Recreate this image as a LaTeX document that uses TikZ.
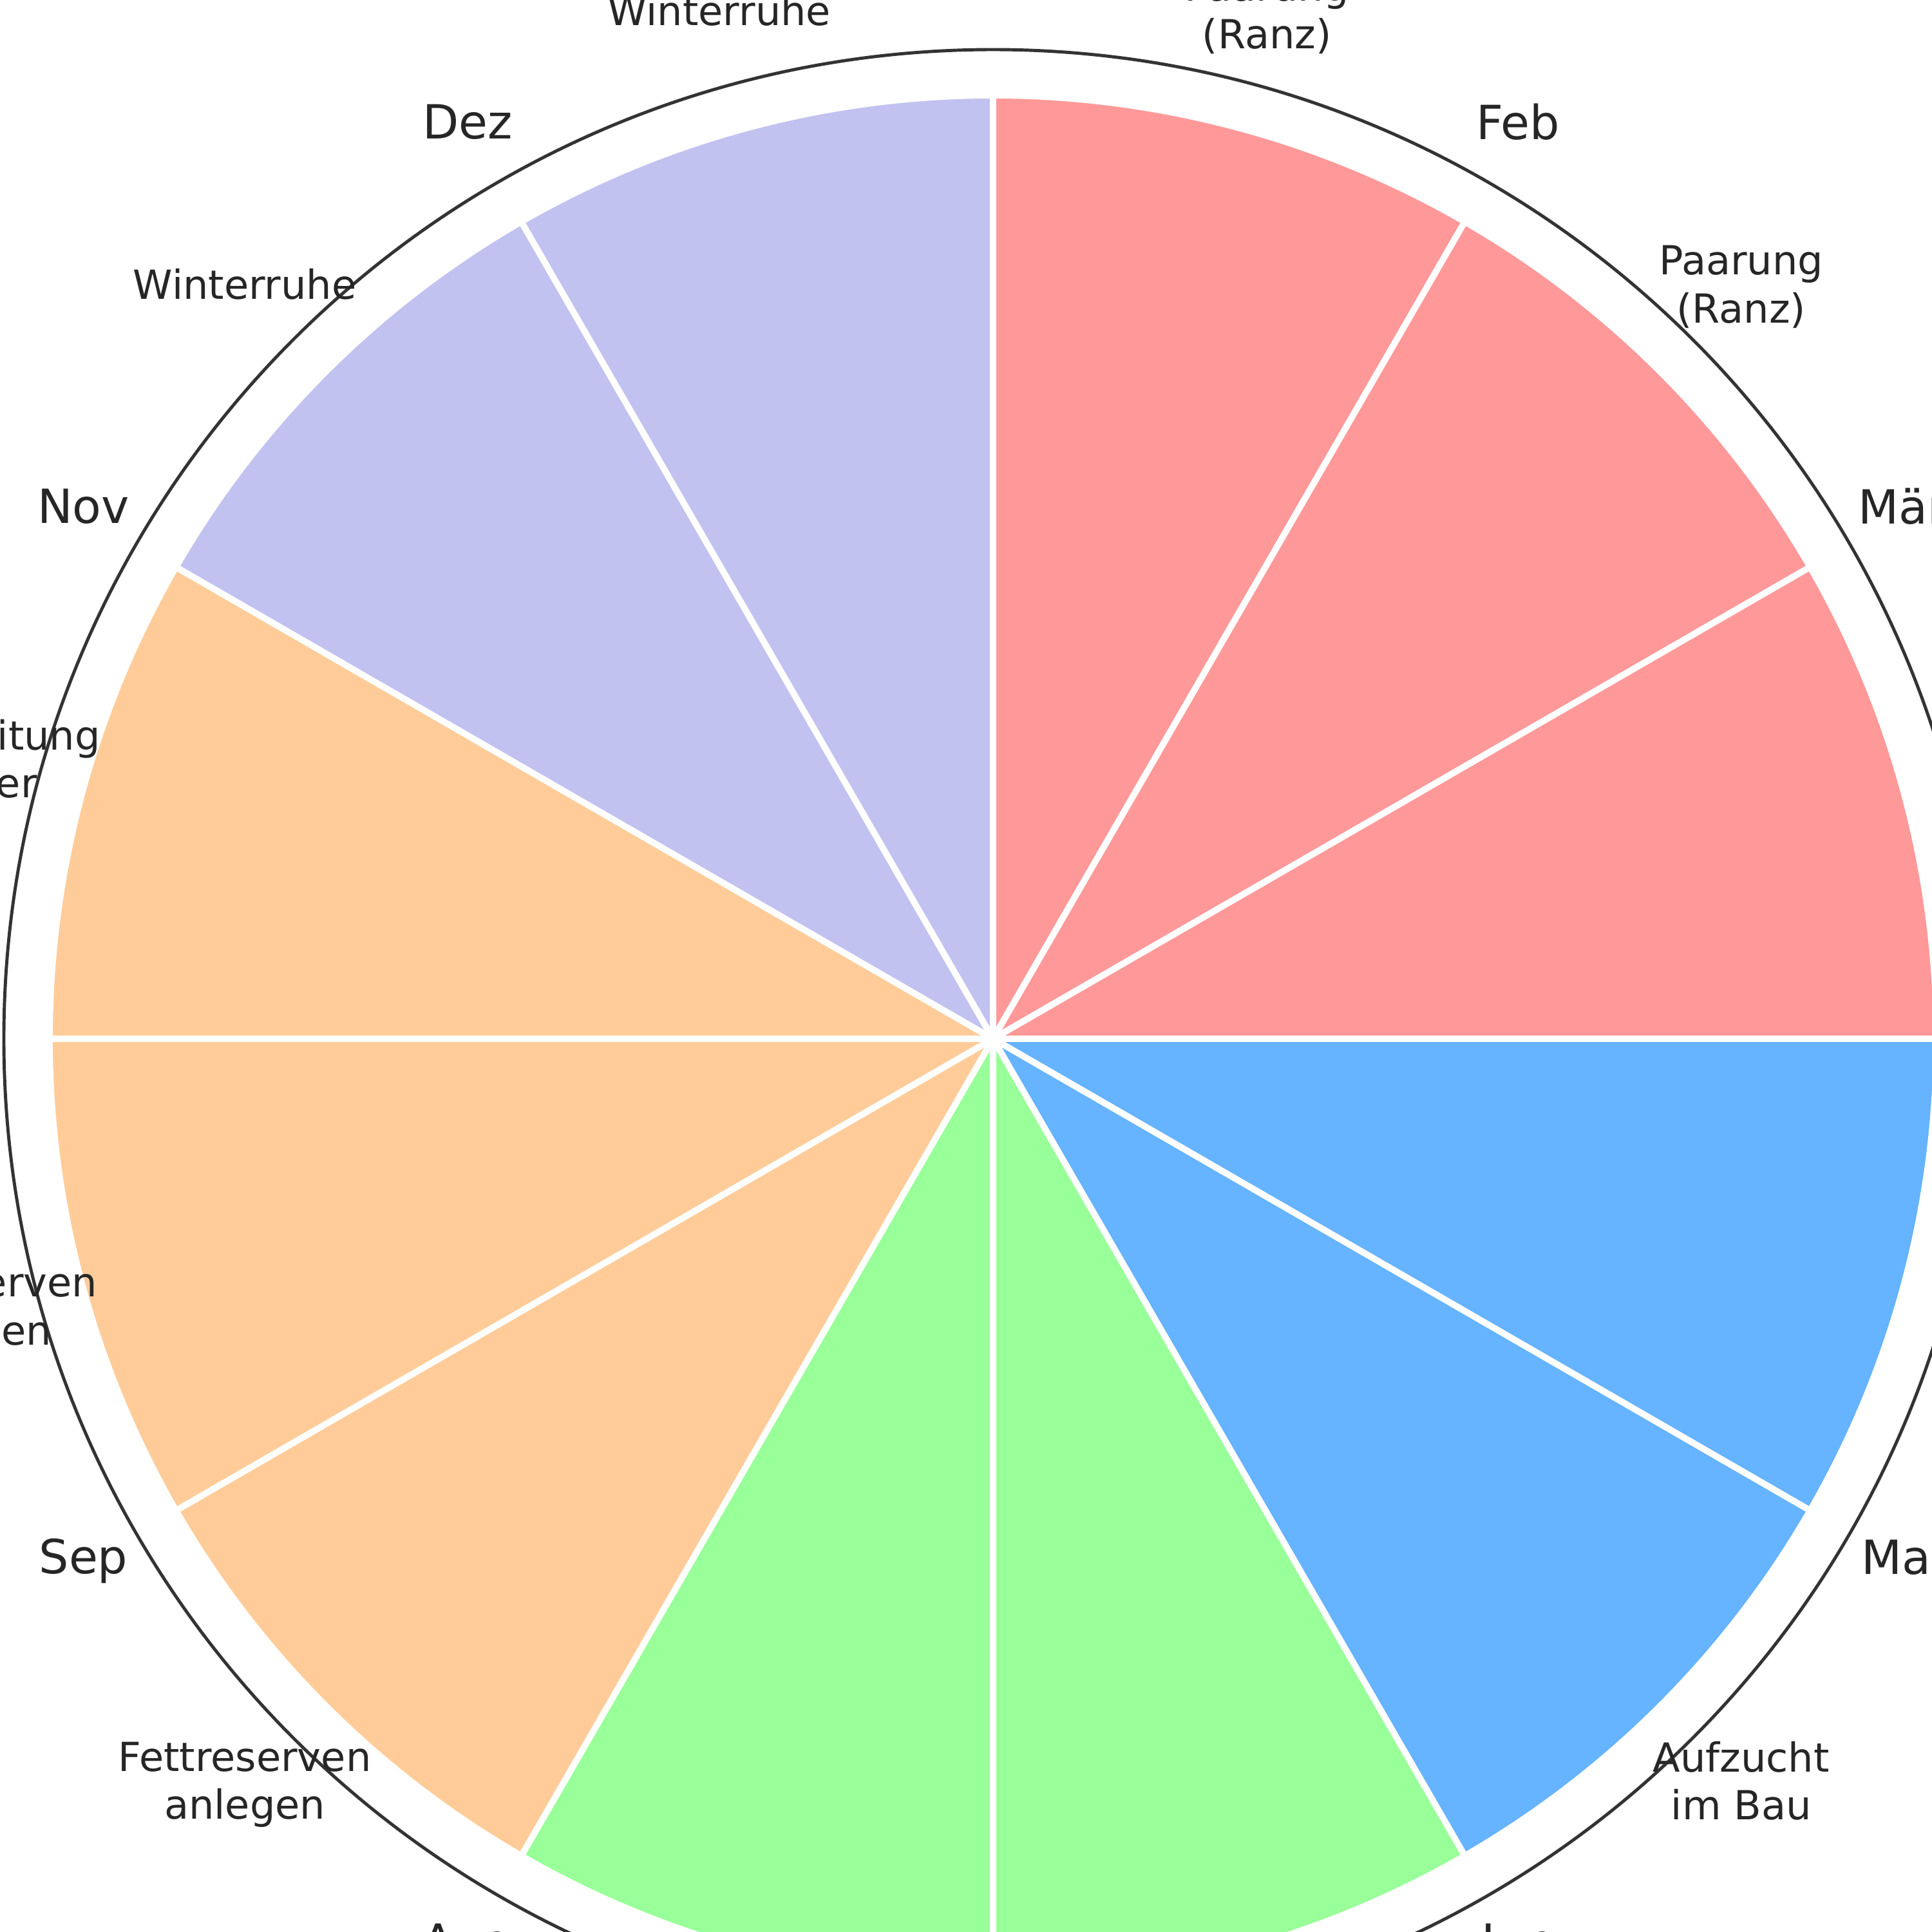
\documentclass[tikz,border=0pt]{standalone}
\usepackage{fontspec}
\setmainfont{DejaVu Sans}
\usepackage{tikz}
\definecolor{ranzred}{HTML}{FF9999}
\definecolor{baublue}{HTML}{66B3FF}
\definecolor{sommergreen}{HTML}{99FF99}
\definecolor{herbstorange}{HTML}{FFCC99}
\definecolor{winterlilac}{HTML}{C2C2F0}
\definecolor{rimgray}{HTML}{333333}
\definecolor{labeldark}{HTML}{262626}
\tikzset{
  sector/.style={draw=white, line width=1.4pt},
  rim/.style={draw=rimgray, line width=0.7pt},
  monthlabel/.style={font=\fontsize{10.4}{12.5}\selectfont, text=labeldark,
    inner sep=0pt, text depth=0pt, align=center, yshift=0.6mm},
  phaselabel/.style={font=\fontsize{8.85}{10.6}\selectfont, text=labeldark,
    inner sep=0pt, text depth=0pt, align=center, yshift=0.5mm}
}

\begin{document}
\begin{tikzpicture}
  \useasboundingbox (-7.71,-6.935) rectangle (7.29,8.065);
  \clip (-7.71,-6.935) rectangle (7.29,8.065);

  % Month sectors, clockwise from the top
  \filldraw[sector, fill=ranzred]      (0,0) -- (90:7.325)   arc[start angle=90,   end angle=60,   radius=7.325] -- cycle;
  \filldraw[sector, fill=ranzred]      (0,0) -- (60:7.325)   arc[start angle=60,   end angle=30,   radius=7.325] -- cycle;
  \filldraw[sector, fill=ranzred]      (0,0) -- (30:7.325)   arc[start angle=30,   end angle=0,    radius=7.325] -- cycle;
  \filldraw[sector, fill=baublue]      (0,0) -- (0:7.325)    arc[start angle=0,    end angle=-30,  radius=7.325] -- cycle;
  \filldraw[sector, fill=baublue]      (0,0) -- (-30:7.325)  arc[start angle=-30,  end angle=-60,  radius=7.325] -- cycle;
  \filldraw[sector, fill=sommergreen]  (0,0) -- (-60:7.325)  arc[start angle=-60,  end angle=-90,  radius=7.325] -- cycle;
  \filldraw[sector, fill=sommergreen]  (0,0) -- (-90:7.325)  arc[start angle=-90,  end angle=-120, radius=7.325] -- cycle;
  \filldraw[sector, fill=herbstorange] (0,0) -- (-120:7.325) arc[start angle=-120, end angle=-150, radius=7.325] -- cycle;
  \filldraw[sector, fill=herbstorange] (0,0) -- (-150:7.325) arc[start angle=-150, end angle=-180, radius=7.325] -- cycle;
  \filldraw[sector, fill=herbstorange] (0,0) -- (180:7.325)  arc[start angle=180,  end angle=150,  radius=7.325] -- cycle;
  \filldraw[sector, fill=winterlilac]  (0,0) -- (150:7.325)  arc[start angle=150,  end angle=120,  radius=7.325] -- cycle;
  \filldraw[sector, fill=winterlilac]  (0,0) -- (120:7.325)  arc[start angle=120,  end angle=90,   radius=7.325] -- cycle;

  % Outer ring
  \draw[rim] (0,0) circle[radius=7.68];

  % Month labels on the sector borders
  \node[monthlabel] (feb)  at (60:8.155)   {Feb};
  \node[monthlabel] (maer) at (30:8.155)   {Mär};
  \node[monthlabel] (mai)  at (-30:8.155)  {Mai};
  \node[monthlabel] (jun)  at (-60:8.155)  {Jun};
  \node[monthlabel] (aug)  at (-120:8.155) {Aug};
  \node[monthlabel] (sep)  at (-150:8.155) {Sep};
  \node[monthlabel] (nov)  at (150:8.155)  {Nov};
  \node[monthlabel] (dez)  at (120:8.155)  {Dez};

  % Phase labels in the middle of each sector
  \node[phaselabel] (ranzjan)  at (75:8.215)   {Paarung\\(Ranz)};
  \node[phaselabel] (ranzfeb)  at (45:8.215)   {Paarung\\(Ranz)};
  \node[phaselabel] (baumai)   at (-45:8.215)  {Aufzucht\\im Bau};
  \node[phaselabel] (fettaug)  at (-135:8.215) {Fettreserven\\anlegen};
  \node[phaselabel] (fettsep)  at (-165:8.215) {Fettreserven\\anlegen};
  \node[phaselabel] (vorbokt)  at (165:8.215)  {Vorbereitung\\Winter};
  \node[phaselabel] (ruhenov)  at (135:8.215)  {Winterruhe};
  \node[phaselabel] (ruhedez)  at (105:8.215)  {Winterruhe};
\end{tikzpicture}
\end{document}
